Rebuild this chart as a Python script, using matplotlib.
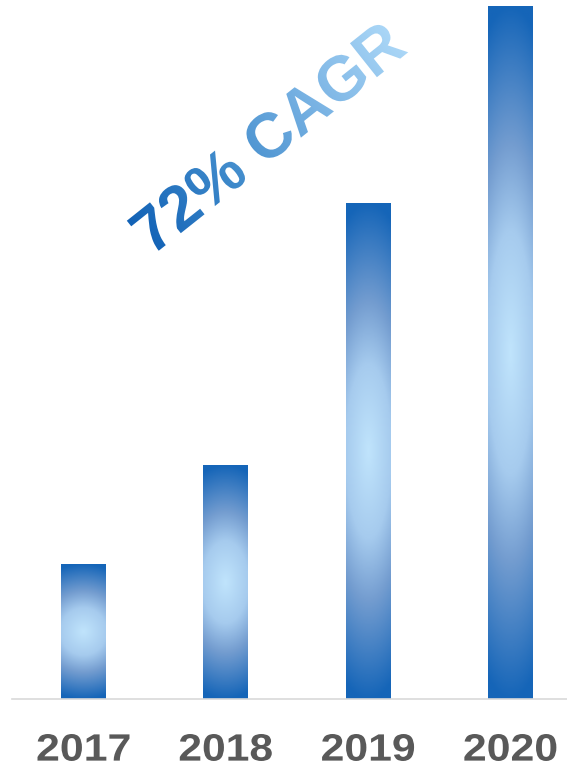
import numpy as np
import matplotlib
matplotlib.use("Agg")
import matplotlib.pyplot as plt
from matplotlib.colors import LinearSegmentedColormap
from matplotlib.textpath import TextPath
from matplotlib.font_manager import FontProperties
from matplotlib.patches import PathPatch
from matplotlib.transforms import Affine2D

# --- data ---------------------------------------------------------------
years = ["2017", "2018", "2019", "2020"]
revenue = [13.5, 23.4, 49.6, 69.3]
headline = "72% CAGR"

W, H = 567, 770
fig = plt.figure(figsize=(W / 100, H / 100), dpi=100)
fig.patch.set_facecolor("white")

ax = fig.add_axes([12 / W, 71 / H, 555 / W, 699 / H])
ax.set_xlim(-0.5025, 3.398)
ax.set_ylim(0, 69.9)

# bar fill: dark blue at the ends, pale blue in the middle
bar_cmap = LinearSegmentedColormap.from_list(
    "bar", [(0.0, "#C0E4FC"), (0.35, "#A6CBEE"), (0.6, "#749DD0"), (1.0, "#1565B8")]
)
ny, nx = 300, 40
yy, xx = np.mgrid[0:ny, 0:nx]
ty = np.abs((yy + 0.5) / ny - 0.5) * 2
tx = np.abs((xx + 0.5) / nx - 0.5) * 2
tgrad = np.clip(np.sqrt(ty ** 2 + 0.12 * tx ** 2), 0, 1)

x = np.arange(len(years))
bars = ax.bar(x, revenue, width=0.316, color="none", edgecolor="none")
for b in bars:
    x0, y0 = b.get_x(), b.get_y()
    im = ax.imshow(tgrad, cmap=bar_cmap, vmin=0, vmax=1, aspect="auto",
                   extent=(x0, x0 + b.get_width(), y0, y0 + b.get_height()),
                   origin="lower", interpolation="bilinear", zorder=2)
    im.set_clip_path(b)

for s in ["top", "left", "right"]:
    ax.spines[s].set_visible(False)
ax.spines["bottom"].set_color("#D9D9D9")
ax.spines["bottom"].set_linewidth(1.2)
ax.set_yticks([])
ax.set_xticks(x)
ax.set_xticklabels([])
ax.tick_params(axis="x", length=0)

# --- overlay in pixel coordinates for the shaped text --------------------
ov = fig.add_axes([0, 0, 1, 1], zorder=5)
ov.set_xlim(0, W)
ov.set_ylim(0, H)
ov.axis("off")
ov.patch.set_alpha(0)

fp = FontProperties(family="Liberation Sans", weight="bold")

# year labels: wide bold digits centred under each bar
label_w, label_h, label_cy = 92, 27, H - 747.5
fig.canvas.draw()
for i, yr in enumerate(years):
    lp = TextPath((0, 0), yr, size=40, prop=fp)
    le = lp.get_extents()
    xc = ov.transData.inverted().transform(ax.transData.transform((x[i], 0)))[0]
    ltr = (Affine2D()
           .translate(-(le.x0 + le.x1) / 2, -(le.y0 + le.y1) / 2)
           .scale(label_w / le.width, label_h / le.height)
           .translate(xc, label_cy))
    ov.add_patch(PathPatch(ltr.transform_path(lp), facecolor="#595959",
                           edgecolor="none", transform=ov.transData))

# rotated headline with a colour gradient along its direction
angle = 38.5
tp = TextPath((0, 0), headline, size=63, prop=fp)
ext = tp.get_extents()
cx0, cy0 = (ext.x0 + ext.x1) / 2, (ext.y0 + ext.y1) / 2
center = (267.5, H - 136.5)
tr = Affine2D().translate(-cx0, -cy0).rotate_deg(angle).translate(*center)
patch = PathPatch(tr.transform_path(tp), facecolor="none", edgecolor="none",
                  transform=ov.transData)
ov.add_patch(patch)

txt_cmap = LinearSegmentedColormap.from_list(
    "txt", ["#1262B6", "#3F8ACB", "#78B2E3", "#ABD7F7"]
)
gy, gx = np.mgrid[0:H, 0:W]
ca, sa = np.cos(np.radians(angle)), np.sin(np.radians(angle))
proj = (gx - center[0]) * ca + (gy - center[1]) * sa
half = (ext.x1 - ext.x0) / 2
tval = np.clip((proj + half) / (2 * half), 0, 1)
tim = ov.imshow(tval, cmap=txt_cmap, vmin=0, vmax=1, extent=(0, W, 0, H),
                origin="lower", interpolation="bilinear", aspect="auto")
tim.set_clip_path(patch)

fig.savefig("out.png", dpi=100, facecolor="white")
